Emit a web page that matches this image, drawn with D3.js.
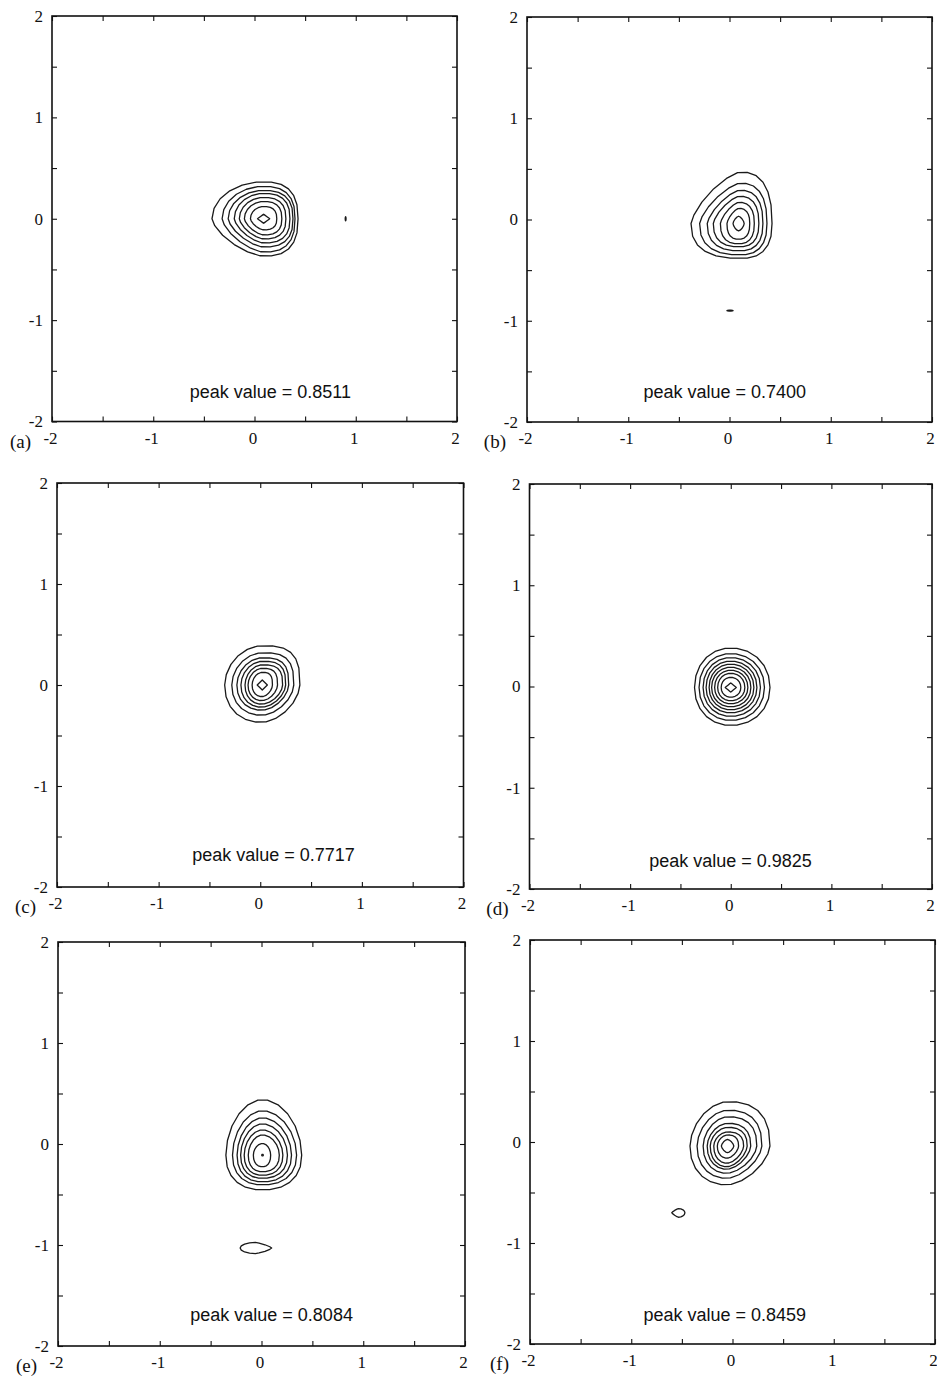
<!DOCTYPE html>
<html>
<head>
<meta charset="utf-8">
<script src="https://cdn.jsdelivr.net/npm/d3@7"></script>
<style>
  html, body { margin: 0; padding: 0; background: #fff; }
  svg { display: block; }
</style>
</head>
<body>
<svg id="chart" width="937" height="1386"></svg>
<script>
// ---------------- data ----------------
const panelLetters = ["(a)", "(b)", "(c)", "(d)", "(e)", "(f)"];
const peakValues = ["0.8511", "0.7400", "0.7717", "0.9825", "0.8084", "0.8459"];
// anchor (left, baseline) of the "peak value" annotation, in data units
const peakLabelX = [-0.64, -0.85, -0.67, -0.81, -0.70, -0.88];
const peakLabelY = [-1.77, -1.76, -1.74, -1.78, -1.75, -1.77];

const axisDomain = [-2, 2];
const tickValues = [-2, -1, 0, 1, 2];
const tickLabels = ["-2", "-1", "0", "1", "2"];
const minorTickValues = [-2, -1.5, -1, -0.5, 0, 0.5, 1, 1.5, 2];

// contour rings: [cx, cy, rLeft, rRight, rBottom, rTop] (data units), innermost first
const ringsA = [
  [0.09, 0.00, 0.06, 0.06, 0.045, 0.045],
  [0.09, 0.00, 0.13, 0.13, 0.11, 0.12],
  [0.09, 0.00, 0.19, 0.18, 0.16, 0.17],
  [0.09, 0.00, 0.24, 0.22, 0.20, 0.21],
  [0.09, 0.00, 0.29, 0.26, 0.24, 0.25],
  [0.09, 0.00, 0.35, 0.29, 0.28, 0.28],
  [0.09, 0.00, 0.41, 0.31, 0.33, 0.32],
  [0.09, 0.00, 0.51, 0.34, 0.37, 0.365]
];
const ringsB = [
  [0.09, -0.04, 0.055, 0.055, 0.073, 0.072],
  [0.09, -0.04, 0.115, 0.11, 0.155, 0.15],
  [0.09, -0.04, 0.18, 0.155, 0.20, 0.21],
  [0.095, -0.04, 0.255, 0.195, 0.23, 0.27],
  [0.10, -0.04, 0.32, 0.23, 0.27, 0.33],
  [0.105, -0.04, 0.40, 0.265, 0.31, 0.40],
  [0.11, -0.04, 0.49, 0.31, 0.345, 0.51]
];
const ringsC = [
  [0.02, 0.00, 0.05, 0.05, 0.05, 0.05],
  [0.02, 0.00, 0.10, 0.10, 0.115, 0.125],
  [0.02, 0.00, 0.14, 0.15, 0.155, 0.165],
  [0.02, 0.00, 0.17, 0.20, 0.19, 0.20],
  [0.02, 0.00, 0.21, 0.23, 0.22, 0.235],
  [0.02, 0.00, 0.25, 0.26, 0.25, 0.27],
  [0.02, 0.00, 0.30, 0.31, 0.30, 0.32],
  [0.02, 0.00, 0.37, 0.37, 0.37, 0.39]
];
const ringsD = [
  [0.00, -0.01, 0.055, 0.055, 0.045, 0.045],
  [0.00, -0.01, 0.095, 0.10, 0.095, 0.10],
  [0.00, -0.01, 0.13, 0.14, 0.13, 0.14],
  [0.00, -0.01, 0.16, 0.17, 0.16, 0.17],
  [0.00, -0.01, 0.19, 0.20, 0.19, 0.20],
  [0.00, -0.01, 0.215, 0.23, 0.22, 0.23],
  [0.00, -0.01, 0.245, 0.26, 0.25, 0.26],
  [0.00, -0.01, 0.275, 0.295, 0.285, 0.295],
  [0.00, -0.01, 0.315, 0.335, 0.325, 0.335],
  [0.00, -0.01, 0.36, 0.39, 0.375, 0.39]
];
const ringsE = [
  [0.01, -0.11, 0.008, 0.008, 0.008, 0.008],
  [0.01, -0.11, 0.09, 0.08, 0.115, 0.115],
  [0.01, -0.11, 0.14, 0.165, 0.165, 0.20],
  [0.01, -0.11, 0.18, 0.20, 0.20, 0.25],
  [0.01, -0.11, 0.215, 0.245, 0.23, 0.31],
  [0.01, -0.11, 0.25, 0.285, 0.265, 0.37],
  [0.01, -0.11, 0.295, 0.335, 0.295, 0.44],
  [0.01, -0.11, 0.36, 0.385, 0.345, 0.55]
];
const ringsF = [
  [-0.05, -0.04, 0.06, 0.063, 0.066, 0.066],
  [-0.05, -0.04, 0.10, 0.11, 0.12, 0.11],
  [-0.05, -0.04, 0.135, 0.16, 0.17, 0.14],
  [-0.05, -0.04, 0.17, 0.195, 0.205, 0.185],
  [-0.05, -0.04, 0.20, 0.23, 0.23, 0.225],
  [-0.05, -0.04, 0.24, 0.29, 0.27, 0.29],
  [-0.05, -0.04, 0.30, 0.34, 0.32, 0.355],
  [-0.05, -0.04, 0.37, 0.42, 0.385, 0.44]
];
// small isolated contours
const extrasA = [[0.90, 0.00, 0.004, 0.004, 0.02, 0.02]];
const extrasB = [[0.005, -0.90, 0.03, 0.03, 0.004, 0.004]];
const extrasC = [];
const extrasD = [];
const extrasE = [[-0.06, -1.03, 0.15, 0.16, 0.055, 0.055]];
const extrasF = [[-0.535, -0.70, 0.065, 0.065, 0.045, 0.04]];

// ---------------- layout / style ----------------
const frames = [
  { x0: 52,  x1: 457, y0: 16,  y1: 421.5 },
  { x0: 527, x1: 932, y0: 17,  y1: 422 },
  { x0: 57,  x1: 463.5, y0: 483, y1: 887 },
  { x0: 529.5, x1: 932, y0: 484, y1: 889 },
  { x0: 58,  x1: 465, y0: 942, y1: 1346 },
  { x0: 530, x1: 935, y0: 940, y1: 1344 }
];
// quadrant exponents [upper-right, upper-left, lower-left, lower-right]
const shapes = [
  [2.6, 2.0, 1.5, 2.6],
  [2.5, 1.4, 2.5, 2.5],
  [3.0, 1.9, 2.2, 1.7],
  [2.1, 2.1, 2.1, 2.1],
  [1.9, 1.9, 2.3, 2.3],
  [2.5, 1.8, 2.2, 1.6]
];
const innerShapes = [1, 1.5, 1, 1, 2, 1.5];
const extraShapes = [
  [2, 2, 2, 2],
  [2, 2, 2, 2],
  [2, 2, 2, 2],
  [2, 2, 2, 2],
  [1.3, 2, 2, 1.3],
  [2, 1.2, 1.2, 2]
];

const allRings = [ringsA, ringsB, ringsC, ringsD, ringsE, ringsF];
const allExtras = [extrasA, extrasB, extrasC, extrasD, extrasE, extrasF];

const svg = d3.select("#chart");
const serif = "'Liberation Serif', 'Times New Roman', serif";
const sans = "'Liberation Sans', Arial, Helvetica, sans-serif";

function ringPoints(r, shape, nPts) {
  const [cx, cy, rL, rR, rB, rT] = r;
  const pts = [];
  for (let i = 0; i < nPts; i++) {
    const t = 2 * Math.PI * i / nPts;
    const c = Math.cos(t), s = Math.sin(t);
    let q;
    if (c >= 0 && s >= 0) q = 0; else if (c < 0 && s >= 0) q = 1; else if (c < 0) q = 2; else q = 3;
    const e = 2 / shape[q];
    const x = cx + (c >= 0 ? rR : rL) * Math.sign(c) * Math.pow(Math.abs(c), e);
    const y = cy + (s >= 0 ? rT : rB) * Math.sign(s) * Math.pow(Math.abs(s), e);
    pts.push([x, y]);
  }
  return pts;
}

frames.forEach((f, i) => {
  const x = d3.scaleLinear().domain(axisDomain).range([f.x0, f.x1]);
  const y = d3.scaleLinear().domain(axisDomain).range([f.y1, f.y0]);
  const g = svg.append("g");

  const fmt = v => {
    const k = tickValues.indexOf(v);
    return k >= 0 ? tickLabels[k] : "";
  };

  // axes (inward ticks on all four sides)
  const bottom = g.append("g").attr("transform", `translate(0,${f.y1})`)
    .call(d3.axisBottom(x).tickValues(minorTickValues).tickFormat(fmt)
      .tickSizeInner(-5).tickSizeOuter(0).tickPadding(10));
  const left = g.append("g").attr("transform", `translate(${f.x0},0)`)
    .call(d3.axisLeft(y).tickValues(minorTickValues).tickFormat(fmt)
      .tickSizeInner(-5).tickSizeOuter(0).tickPadding(9));
  const top = g.append("g").attr("transform", `translate(0,${f.y0})`)
    .call(d3.axisTop(x).tickValues(minorTickValues).tickFormat(() => "")
      .tickSizeInner(-5).tickSizeOuter(0));
  const right = g.append("g").attr("transform", `translate(${f.x1},0)`)
    .call(d3.axisRight(y).tickValues(minorTickValues).tickFormat(() => "")
      .tickSizeInner(-5).tickSizeOuter(0));

  [bottom, left, top, right].forEach(a => {
    a.select(".domain").remove();
    a.selectAll("line").attr("stroke", "#111").attr("stroke-width", 1.1);
    a.selectAll("text").attr("font-family", serif).attr("font-size", 17).attr("fill", "#111");
  });
  bottom.selectAll("text").attr("dx", -2);

  // frame
  g.append("rect")
    .attr("x", f.x0).attr("y", f.y0)
    .attr("width", f.x1 - f.x0).attr("height", f.y1 - f.y0)
    .attr("fill", "none").attr("stroke", "#111").attr("stroke-width", 1.6);

  // panel letter
  g.append("text")
    .attr("x", f.x0 - 21).attr("y", f.y1 + 26)
    .attr("text-anchor", "end")
    .attr("font-family", serif).attr("font-size", 19).attr("fill", "#111")
    .text(panelLetters[i]);

  // contours
  const line = d3.line().x(d => x(d[0])).y(d => y(d[1])).curve(d3.curveLinearClosed);
  const rings = allRings[i];
  rings.forEach((r, k) => {
    const isInner = k === 0;
    const shp = isInner ? [innerShapes[i], innerShapes[i], innerShapes[i], innerShapes[i]] : shapes[i];
    g.append("path")
      .attr("d", line(ringPoints(r, shp, isInner ? 16 : 22)))
      .attr("fill", "none").attr("stroke", "#1a1a1a").attr("stroke-width", 1.3)
      .attr("stroke-linejoin", "round");
  });
  allExtras[i].forEach(r => {
    g.append("path")
      .attr("d", line(ringPoints(r, extraShapes[i], 16)))
      .attr("fill", "none").attr("stroke", "#1a1a1a").attr("stroke-width", 1.3)
      .attr("stroke-linejoin", "round");
  });

  // peak value annotation
  g.append("text")
    .attr("x", x(peakLabelX[i])).attr("y", y(peakLabelY[i]))
    .attr("font-family", sans).attr("font-size", 18).attr("fill", "#111")
    .text("peak value = " + peakValues[i]);
});
</script>
</body>
</html>
